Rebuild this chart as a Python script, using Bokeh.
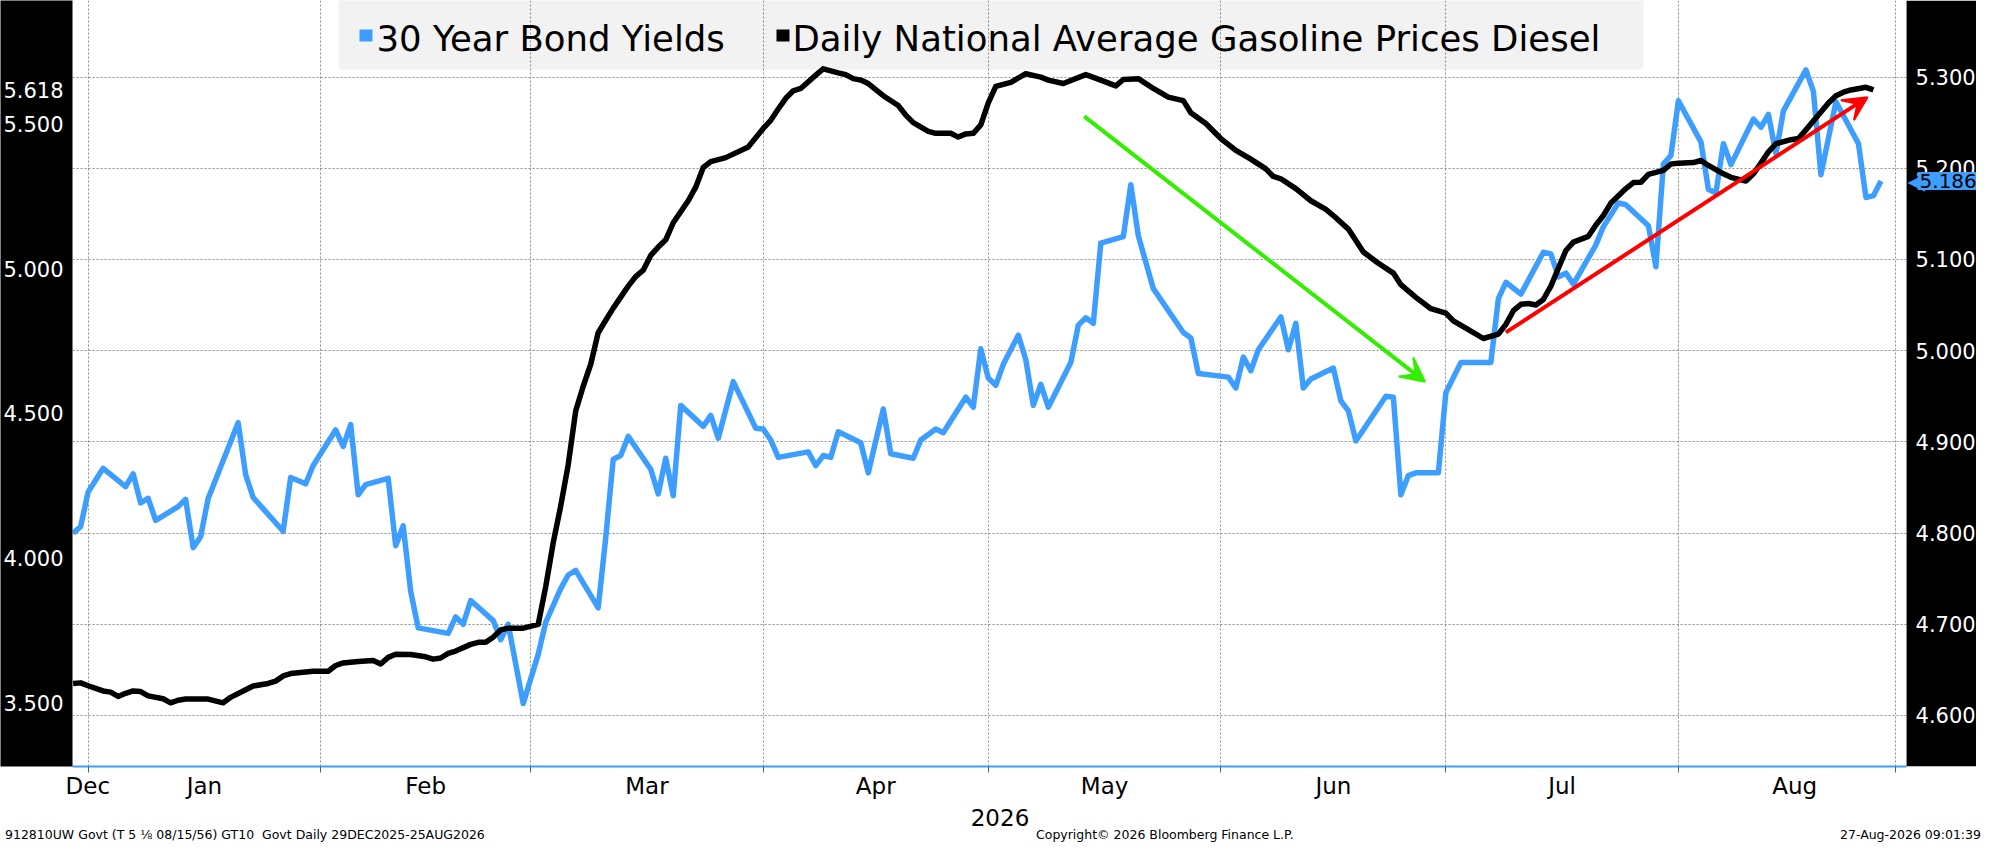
import pandas as pd
from bokeh.embed import file_html
from bokeh.layouts import column
from bokeh.models import (Arrow, BoxAnnotation, DatetimeTickFormatter, Div, FixedTicker, Grid, Label,
                          PrintfTickFormatter, Range1d, VeeHead)
from bokeh.plotting import figure
from bokeh.resources import INLINE

BLUE = '#3d9eff'
GREEN = '#33ee00'
RED = '#ff0000'
GRID = '#8c8c8c'
FONT = 'DejaVu Sans'

# 30 year bond yield (right axis)
bond_dates = [
    '2025-12-30', '2025-12-31',
    '2026-01-01', '2026-01-03', '2026-01-06', '2026-01-07', '2026-01-08', '2026-01-09', '2026-01-10',
    '2026-01-13', '2026-01-14', '2026-01-15', '2026-01-16', '2026-01-17', '2026-01-21', '2026-01-22',
    '2026-01-23', '2026-01-27', '2026-01-28', '2026-01-30', '2026-01-31',
    '2026-02-03', '2026-02-04', '2026-02-05', '2026-02-06', '2026-02-07', '2026-02-10', '2026-02-11',
    '2026-02-12', '2026-02-13', '2026-02-14', '2026-02-18', '2026-02-19', '2026-02-20', '2026-02-21',
    '2026-02-24', '2026-02-25', '2026-02-26', '2026-02-28',
    '2026-03-02', '2026-03-03', '2026-03-05', '2026-03-06', '2026-03-07', '2026-03-10', '2026-03-11',
    '2026-03-12', '2026-03-13', '2026-03-14', '2026-03-17', '2026-03-18', '2026-03-19', '2026-03-20',
    '2026-03-21', '2026-03-24', '2026-03-25', '2026-03-26', '2026-03-28', '2026-03-31',
    '2026-04-01', '2026-04-02', '2026-04-03', '2026-04-07', '2026-04-08', '2026-04-09', '2026-04-10',
    '2026-04-11', '2026-04-14', '2026-04-15', '2026-04-17', '2026-04-18', '2026-04-21', '2026-04-22',
    '2026-04-24', '2026-04-25', '2026-04-28', '2026-04-29', '2026-04-30',
    '2026-05-01', '2026-05-02', '2026-05-03', '2026-05-05', '2026-05-06', '2026-05-07', '2026-05-08',
    '2026-05-09', '2026-05-12', '2026-05-13', '2026-05-14', '2026-05-15', '2026-05-16', '2026-05-19',
    '2026-05-20', '2026-05-21', '2026-05-23', '2026-05-27', '2026-05-28', '2026-05-29',
    '2026-06-02', '2026-06-03', '2026-06-04', '2026-06-05', '2026-06-06', '2026-06-09', '2026-06-10',
    '2026-06-11', '2026-06-12', '2026-06-13', '2026-06-16', '2026-06-17', '2026-06-18', '2026-06-19',
    '2026-06-23', '2026-06-24', '2026-06-25', '2026-06-26', '2026-06-27', '2026-06-30',
    '2026-07-01', '2026-07-03', '2026-07-07', '2026-07-08', '2026-07-09', '2026-07-11', '2026-07-14',
    '2026-07-15', '2026-07-16', '2026-07-17', '2026-07-18', '2026-07-21', '2026-07-22', '2026-07-24',
    '2026-07-25', '2026-07-28', '2026-07-29', '2026-07-30', '2026-07-31',
    '2026-08-01', '2026-08-04', '2026-08-05', '2026-08-06', '2026-08-07', '2026-08-08', '2026-08-11',
    '2026-08-12', '2026-08-13', '2026-08-14', '2026-08-15', '2026-08-18', '2026-08-19', '2026-08-20',
    '2026-08-22', '2026-08-25', '2026-08-26', '2026-08-27', '2026-08-28',
]
bond_yield = [
    4.800, 4.807,
    4.845, 4.871, 4.851, 4.865, 4.833, 4.838, 4.814, 4.829, 4.837, 4.784, 4.796, 4.838, 4.921, 4.864,
    4.839, 4.802, 4.861, 4.854, 4.874,
    4.913, 4.895, 4.919, 4.842, 4.853, 4.860, 4.786, 4.808, 4.736, 4.696, 4.690, 4.708, 4.700, 4.726,
    4.704, 4.683, 4.700, 4.613,
    4.667, 4.702, 4.739, 4.754, 4.759, 4.718, 4.795, 4.881, 4.885, 4.906, 4.870, 4.843, 4.882, 4.841,
    4.940, 4.917, 4.929, 4.904, 4.966, 4.915,
    4.914, 4.902, 4.883, 4.889, 4.874, 4.885, 4.883, 4.911, 4.899, 4.866, 4.936, 4.887, 4.882, 4.902,
    4.914, 4.910, 4.949, 4.938, 5.002,
    4.970, 4.962, 4.985, 5.017, 4.990, 4.940, 4.963, 4.938, 4.987, 5.028, 5.036, 5.030, 5.118, 5.125,
    5.182, 5.126, 5.068, 5.020, 5.014, 4.975,
    4.971, 4.959, 4.993, 4.978, 5.001, 5.037, 5.001, 5.030, 4.959, 4.969, 4.981, 4.945, 4.934, 4.901,
    4.950, 4.949, 4.842, 4.863, 4.866, 4.866,
    4.954, 4.987, 4.987, 5.057, 5.075, 5.062, 5.108, 5.106, 5.081, 5.085, 5.073, 5.116, 5.136, 5.162,
    5.160, 5.137, 5.092, 5.205, 5.214,
    5.274, 5.229, 5.177, 5.173, 5.227, 5.204, 5.254, 5.245, 5.259, 5.216, 5.263, 5.308, 5.284, 5.193,
    5.273, 5.227, 5.168, 5.170, 5.186,
]

# daily national average diesel price (left axis)
diesel_dates = [
    '2025-12-30', '2025-12-31',
    '2026-01-01', '2026-01-02', '2026-01-03', '2026-01-04', '2026-01-05', '2026-01-06', '2026-01-07',
    '2026-01-08', '2026-01-09', '2026-01-11', '2026-01-12', '2026-01-13', '2026-01-14', '2026-01-17',
    '2026-01-19', '2026-01-20', '2026-01-22', '2026-01-23', '2026-01-25', '2026-01-26', '2026-01-27',
    '2026-01-28', '2026-01-31',
    '2026-02-02', '2026-02-03', '2026-02-04', '2026-02-06', '2026-02-08', '2026-02-09', '2026-02-10',
    '2026-02-11', '2026-02-13', '2026-02-15', '2026-02-16', '2026-02-17', '2026-02-18', '2026-02-19',
    '2026-02-21', '2026-02-22', '2026-02-23', '2026-02-24', '2026-02-25', '2026-02-26', '2026-02-28',
    '2026-03-02', '2026-03-03', '2026-03-04', '2026-03-05', '2026-03-06', '2026-03-07', '2026-03-08',
    '2026-03-09', '2026-03-10', '2026-03-11', '2026-03-12', '2026-03-14', '2026-03-15', '2026-03-16',
    '2026-03-17', '2026-03-18', '2026-03-19', '2026-03-20', '2026-03-22', '2026-03-23', '2026-03-24',
    '2026-03-25', '2026-03-27', '2026-03-30',
    '2026-04-01', '2026-04-02', '2026-04-03', '2026-04-04', '2026-04-05', '2026-04-06', '2026-04-08',
    '2026-04-09', '2026-04-11', '2026-04-12', '2026-04-13', '2026-04-14', '2026-04-15', '2026-04-17',
    '2026-04-19', '2026-04-20', '2026-04-21', '2026-04-23', '2026-04-24', '2026-04-26', '2026-04-27',
    '2026-04-28', '2026-04-29', '2026-04-30',
    '2026-05-01', '2026-05-02', '2026-05-04', '2026-05-06', '2026-05-08', '2026-05-09', '2026-05-11',
    '2026-05-14', '2026-05-16', '2026-05-18', '2026-05-19', '2026-05-21', '2026-05-23', '2026-05-25',
    '2026-05-27', '2026-05-28', '2026-05-30',
    '2026-06-01', '2026-06-03', '2026-06-05', '2026-06-07', '2026-06-08', '2026-06-09', '2026-06-11',
    '2026-06-13', '2026-06-15', '2026-06-16', '2026-06-18', '2026-06-20', '2026-06-22', '2026-06-24',
    '2026-06-25', '2026-06-27', '2026-06-29',
    '2026-07-01', '2026-07-02', '2026-07-04', '2026-07-06', '2026-07-08', '2026-07-09', '2026-07-10',
    '2026-07-11', '2026-07-12', '2026-07-13', '2026-07-14', '2026-07-15', '2026-07-16', '2026-07-17',
    '2026-07-18', '2026-07-20', '2026-07-21', '2026-07-22', '2026-07-23', '2026-07-25', '2026-07-26',
    '2026-07-27', '2026-07-28', '2026-07-30', '2026-07-31',
    '2026-08-01', '2026-08-03', '2026-08-04', '2026-08-05', '2026-08-07', '2026-08-08', '2026-08-10',
    '2026-08-11', '2026-08-12', '2026-08-13', '2026-08-14', '2026-08-16', '2026-08-17', '2026-08-18',
    '2026-08-20', '2026-08-21', '2026-08-22', '2026-08-23', '2026-08-24', '2026-08-26', '2026-08-27',
]
diesel_price = [
    3.567, 3.569,
    3.559, 3.550, 3.541, 3.537, 3.522, 3.533, 3.541, 3.539, 3.524, 3.514, 3.500, 3.509, 3.513, 3.513,
    3.500, 3.519, 3.545, 3.558, 3.567, 3.575, 3.593, 3.601, 3.609,
    3.609, 3.629, 3.638, 3.643, 3.646, 3.634, 3.657, 3.668, 3.667, 3.659, 3.651, 3.655, 3.671, 3.679,
    3.702, 3.709, 3.709, 3.727, 3.752, 3.758, 3.758,
    3.771, 3.901, 4.053, 4.180, 4.323, 4.509, 4.594, 4.670, 4.779, 4.822, 4.864, 4.940, 4.973, 4.995,
    5.046, 5.075, 5.100, 5.159, 5.235, 5.282, 5.350, 5.370, 5.384, 5.421,
    5.485, 5.513, 5.552, 5.589, 5.615, 5.623, 5.669, 5.691, 5.677, 5.671, 5.657, 5.652, 5.640, 5.598,
    5.564, 5.531, 5.505, 5.475, 5.468, 5.468, 5.455, 5.466, 5.468, 5.497,
    5.573, 5.630, 5.644, 5.674, 5.662, 5.652, 5.640, 5.671, 5.652, 5.632, 5.654, 5.657, 5.623, 5.593,
    5.581, 5.539, 5.502,
    5.450, 5.409, 5.379, 5.345, 5.319, 5.311, 5.277, 5.235, 5.205, 5.184, 5.137, 5.058, 5.019, 4.985,
    4.945, 4.901, 4.862,
    4.847, 4.820, 4.790, 4.759, 4.774, 4.808, 4.855, 4.877, 4.880, 4.875, 4.894, 4.940, 5.002, 5.063,
    5.092, 5.112, 5.151, 5.184, 5.227, 5.277, 5.298, 5.299, 5.326, 5.340, 5.362,
    5.365, 5.367, 5.374, 5.357, 5.328, 5.316, 5.303, 5.328, 5.365, 5.404, 5.432, 5.446, 5.450, 5.480,
    5.542, 5.573, 5.598, 5.610, 5.618, 5.627, 5.618,
]

series_names = ['30 Year Bond Yields', 'Daily National Average Gasoline Prices Diesel']
series_colors = [BLUE, 'black']
month_starts = ['2026-01-01', '2026-02-01', '2026-03-01', '2026-04-01', '2026-05-01',
                '2026-06-01', '2026-07-01', '2026-08-01', '2026-09-01']
left_ticks = [3.5, 4.0, 4.5, 5.0, 5.5, 5.618]
right_ticks = [4.6, 4.7, 4.8, 4.9, 5.0, 5.1, 5.2, 5.3]
last_bond = 5.186
year_label = '2026'
footer_left = '912810UW Govt (T 5 \u215b 08/15/56) GT10&nbsp; Govt Daily 29DEC2025-25AUG2026'
footer_mid = 'Copyright\u00a9 2026 Bloomberg Finance L.P.'
footer_right = '27-Aug-2026 09:01:39'

DAY = 86400000.0


def ms(s):
    return pd.Timestamp(s).value / 1e6


starts = [ms(s) for s in month_starts]
mid_ticks = [ms('2025-12-31 23:00')] + [(a + b) / 2 for a, b in zip(starts[:-1], starts[1:])]
minor = starts[:-1] + [ms('2026-08-30')]

WIDTH = 1976
BL, BB = 70, 36
FRAME_H = 766
DIV_H = 33
PANEL_W = 70                      # black value panel on the right, inside the frame
x_start = ms('2025-12-29 22:00')
x_end = ms('2026-08-31 10:00')
px_day = (WIDTH - BL - PANEL_W) / ((x_end - x_start) / DAY)
x_max = x_end + PANEL_W / px_day * DAY

p = figure(
    width=WIDTH, height=FRAME_H + BB,
    x_axis_type='datetime',
    x_range=Range1d(x_start, x_max),
    y_range=Range1d(3.280, 5.927),
    output_backend='svg', toolbar_location=None,
    min_border_left=BL, min_border_right=0, min_border_top=0, min_border_bottom=BB,
)
p.extra_y_ranges = {'bond': Range1d(4.544, 5.384)}
p.outline_line_color = None
p.border_fill_color = 'white'

# legend box sits under the grid lines, as in the original
p.add_layout(BoxAnnotation(left=266, right=1571, bottom=FRAME_H - 69, top=FRAME_H + 6,
                           left_units='screen', right_units='screen', bottom_units='screen',
                           top_units='screen', fill_color='#f2f2f2', fill_alpha=1, line_color=None,
                           border_radius=4, level='image'))

bond_line = p.line(pd.to_datetime(bond_dates), bond_yield, y_range_name='bond',
                   color=BLUE, line_width=5.5, line_join='round')
diesel_line = p.line(pd.to_datetime(diesel_dates), diesel_price,
                     color='black', line_width=5.5, line_join='round')

# x axis: month labels in the middle, month boundaries as minor ticks
xa = p.xaxis[0]
xa.bounds = (x_start, x_end)
xa.ticker = FixedTicker(ticks=mid_ticks, minor_ticks=minor)
fmt = '%b'
xa.formatter = DatetimeTickFormatter(microseconds=fmt, milliseconds=fmt, seconds=fmt, minsec=fmt,
                                     minutes=fmt, hourmin=fmt, hours=fmt, days=fmt, months=fmt, years=fmt)
xa.axis_line_color = BLUE
xa.axis_line_width = 2
xa.major_tick_line_color = None
xa.major_tick_in = 0
xa.major_tick_out = 0
xa.minor_tick_line_color = '#606060'
xa.minor_tick_in = 0
xa.minor_tick_out = 6
xa.major_label_text_font = FONT
xa.major_label_text_font_size = '23px'
xa.major_label_text_color = 'black'
xa.major_label_standoff = 0

p.xgrid.grid_line_color = None
p.xgrid.minor_grid_line_color = GRID
p.xgrid.minor_grid_line_dash = '2 2'
p.ygrid.grid_line_color = None

# left axis: diesel
ya = p.yaxis[0]
ya.ticker = FixedTicker(ticks=left_ticks)
ya.formatter = PrintfTickFormatter(format='%.3f')
ya.background_fill_color = 'black'
ya.axis_line_color = None
ya.major_tick_line_color = None
ya.minor_tick_line_color = None
ya.major_tick_out = 0
ya.minor_tick_out = 0
ya.major_label_text_color = 'white'
ya.major_label_text_font = FONT
ya.major_label_text_font_size = '21px'
ya.major_label_standoff = 9

# horizontal grid follows the bond yield scale
p.add_layout(Grid(dimension=1, ticker=FixedTicker(ticks=right_ticks), y_range_name='bond',
                  grid_line_color=GRID, grid_line_dash='2 2'))

# arrows
p.add_layout(Arrow(x_start=ms('2026-05-13 19:00'), y_start=5.257,
                   x_end=ms('2026-06-28 05:00'), y_end=4.966, y_range_name='bond',
                   line_color=GREEN, line_width=4,
                   end=VeeHead(size=24, fill_color=GREEN, line_color=GREEN, line_width=2)))
p.add_layout(Arrow(x_start=ms('2026-07-09'), y_start=5.020,
                   x_end=ms('2026-08-26 05:00'), y_end=5.278, y_range_name='bond',
                   line_color=RED, line_width=4,
                   end=VeeHead(size=24, fill_color=RED, line_color=RED, line_width=2)))

# right value panel (bond yield scale)
p.add_layout(BoxAnnotation(left=x_end, fill_color='black', fill_alpha=1, line_color=None))
for v in right_ticks:
    p.add_layout(Label(x=x_end + 9 / px_day * DAY, y=v, y_range_name='bond', text=f'{v:.3f}',
                       text_color='white', text_font=FONT, text_font_size='21px',
                       text_baseline='middle'))
p.add_layout(Label(x=x_end + 1 / px_day * DAY, y=last_bond, y_range_name='bond',
                   text='\u25c0', text_color=BLUE, text_font=FONT, text_font_size='23px',
                   text_baseline='middle'))
p.add_layout(Label(x=x_end + 11 / px_day * DAY, y=last_bond, y_range_name='bond',
                   text=f'{last_bond:.3f}', text_color='black', text_font=FONT, text_font_size='20px',
                   text_baseline='middle', background_fill_color=BLUE, padding=2))

# legend entries: colour square + name
for (sq_left, text_x), name, color in zip([(287, 304), (704, 720)], series_names, series_colors):
    p.add_layout(BoxAnnotation(left=sq_left, right=sq_left + 13, bottom=FRAME_H - 41, top=FRAME_H - 29,
                               left_units='screen', right_units='screen', bottom_units='screen',
                               top_units='screen', fill_color=color, fill_alpha=1, line_color=None))
    p.add_layout(Label(x=text_x, y=FRAME_H - 38, x_units='screen', y_units='screen', text=name,
                       text_font=FONT, text_font_size='35.5px', text_color='black',
                       text_baseline='alphabetic'))

# year label and footer line under the chart
footer = Div(
    width=WIDTH, height=DIV_H,
    text=(
        f'<div style="position:relative;width:{WIDTH}px;height:{DIV_H}px;font-family:\'{FONT}\';'
        f'color:black;white-space:nowrap">'
        f'<span style="position:absolute;left:995px;top:0;transform:translateX(-50%);'
        f'font-size:23px;line-height:22px">{year_label}</span>'
        f'<span style="position:absolute;left:0;top:22px;font-size:12.5px;line-height:12px">{footer_left}</span>'
        f'<span style="position:absolute;left:1031px;top:22px;font-size:12.5px;line-height:12px">{footer_mid}</span>'
        f'<span style="position:absolute;right:0;top:22px;font-size:12.5px;line-height:12px">{footer_right}</span>'
        f'</div>'
    ),
)

open('out.html', 'w').write(file_html(column(p, footer, spacing=0), INLINE))
